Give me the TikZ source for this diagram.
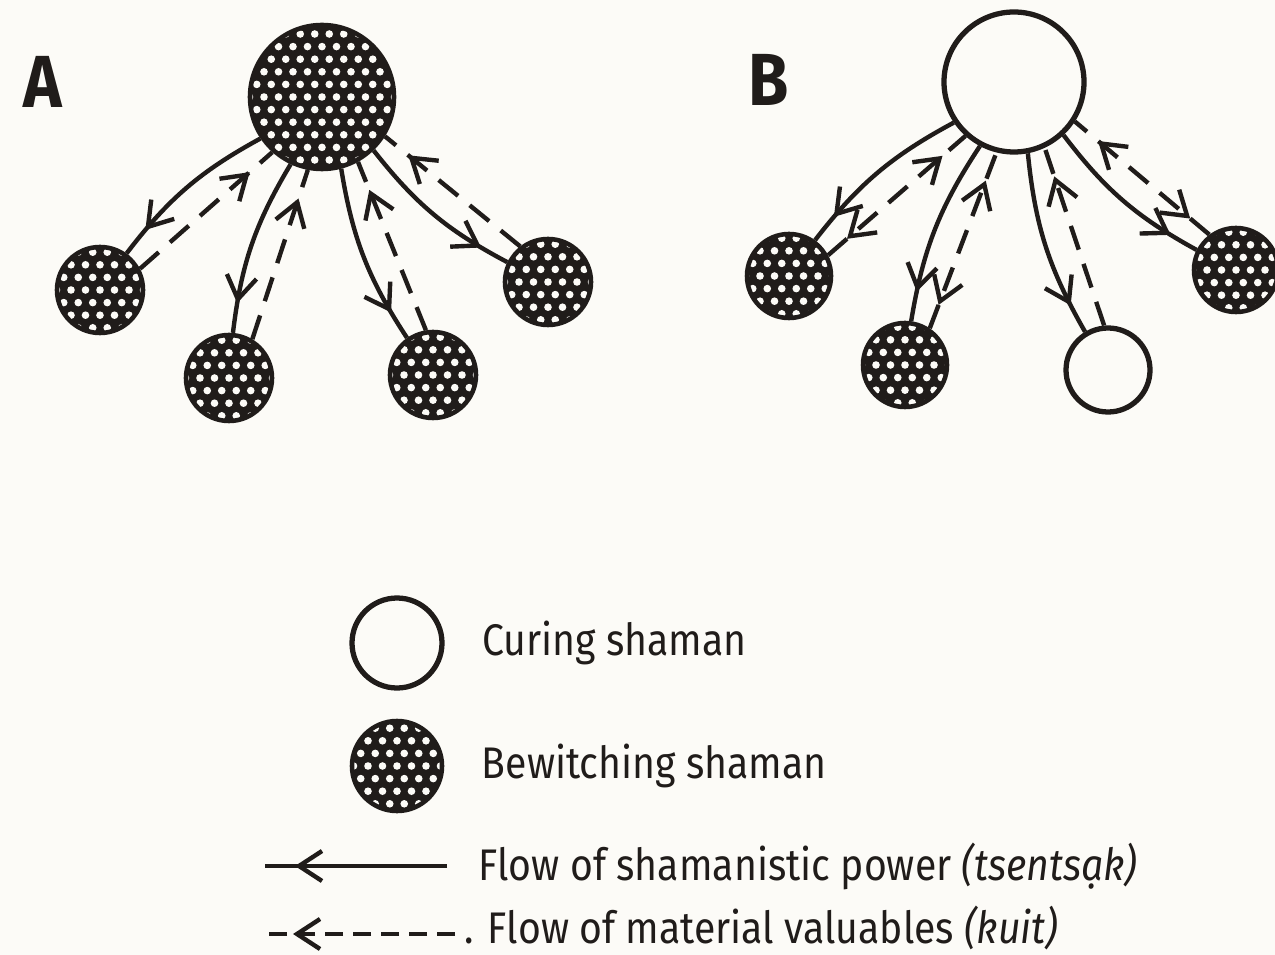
\documentclass[tikz,border=0pt]{standalone}
\usepackage{fontspec}
\setmainfont{Fira Sans}[FakeStretch=0.885]
\usetikzlibrary{arrows.meta,decorations.markings,positioning}
\definecolor{ink}{RGB}{32,28,26}
\definecolor{paper}{RGB}{252,251,247}
\tikzset{
  >={Straight Barb[length=2.3mm,width=3mm]},
  witch/.style={circle,draw=ink,line width=1.3pt,fill=ink,inner sep=0pt,
    minimum size=#1,path picture={
      \foreach \j in {-6,...,6}
        \foreach \i in {-6,...,6}
          \fill[paper] ([shift={(\i*1.45mm+\j*0.725mm,\j*1.26mm)}]path picture bounding box.center)
            circle[radius=0.38mm];}},
  healer/.style={circle,draw=ink,line width=1.5pt,fill=paper,inner sep=0pt,
    minimum size=#1},
  power/.style={draw=ink,line width=1.25pt,postaction={decorate},
    decoration={markings,mark=at position -3mm with {\arrow{>}}}},
  goods/.style={draw=ink,line width=1.25pt,dash pattern=on 2.5mm off 1.5mm,
    postaction={decorate},
    decoration={markings,mark=at position -3mm with {\arrow{>}}}},
  goodsboth/.style={draw=ink,line width=1.25pt,dash pattern=on 2.5mm off 1.5mm,
    postaction={decorate},
    decoration={markings,mark=at position -3mm with {\arrow{>}},
      mark=at position 2.5mm with {\arrowreversed{>}}}},
  panel/.style={font=\bfseries\fontsize{21}{24}\selectfont,text=ink,inner sep=0pt},
  key/.style={font=\fontsize{12.6}{15}\selectfont,text=ink,inner sep=0pt}
}
\begin{document}
\begin{tikzpicture}[x=0.1mm,y=-0.1mm]
  \useasboundingbox (0,0) rectangle (1275,955);
  \fill[paper] (0,0) rectangle (1275,955);

  % panel A: bewitching shaman in the middle
  \node[panel] (labA) at (43,82) {A};
  \node[witch=14.4mm] (hubA) at (322,97) {};
  \node[witch=8.6mm] (a1) at (100,290) {};
  \node[witch=8.6mm] (a2) at (229,378) {};
  \node[witch=8.6mm] (a3) at (433,375) {};
  \node[witch=8.6mm] (a4) at (548,282) {};
  \foreach \s/\t [evaluate=\t as \ho using \t-7, evaluate=\t as \hi using \t+7,
      evaluate=\t as \so using \t+193, evaluate=\t as \si using \t+167]
      in {a1/221,a2/252,a3/292,a4/321}{
    \draw[power] (hubA.\ho) to[bend right=12] (\s.\so);
    \draw[goods] (\s.\si) -- (hubA.\hi);
  }

  % panel B: curing shaman in the middle
  \node[panel] (labB) at (769,80) {B};
  \node[healer=14mm] (hubB) at (1014,82) {};
  \node[witch=8.4mm] (b1) at (789,276) {};
  \node[witch=8.4mm] (b2) at (905,365) {};
  \node[healer=8.4mm] (b3) at (1108,370) {};
  \node[witch=8.4mm] (b4) at (1236,270) {};
  \foreach \s/\t/\g [evaluate=\t as \ho using \t-7, evaluate=\t as \hi using \t+7,
      evaluate=\t as \so using \t+193, evaluate=\t as \si using \t+167]
      in {b1/221/goodsboth,b2/249/goodsboth,b3/288/goods,b4/320/goodsboth}{
    \draw[power] (hubB.\ho) to[bend right=12] (\s.\so);
    \draw[\g] (\s.\si) -- (hubB.\hi);
  }

  % key
  \node[healer=9mm] (lc) at (397,643) {};
  \node[witch=9mm] (lb) at (397,766) {};
  \node[key,right=3.7mm of lc] (t1) {Curing shaman};
  \node[key,right=3.7mm of lb] (t2) {Bewitching shaman};
  \node[key,anchor=west] (t3) at (478,866) {Flow of shamanistic power \textit{(tsentsạk)}};
  \node[key,anchor=west] (t4) at (464,928) {. Flow of material valuables \textit{(kuit)}};
  \coordinate (k1) at (447,866);
  \coordinate (k1e) at (265,866);
  \coordinate (k2) at (455,934);
  \coordinate (k2e) at (263,934);
  \draw[power] (k1) -- (k1e);
  \draw[goods,dash pattern=on 1.8mm off 1mm] (k2) -- (k2e);
\end{tikzpicture}
\end{document}
